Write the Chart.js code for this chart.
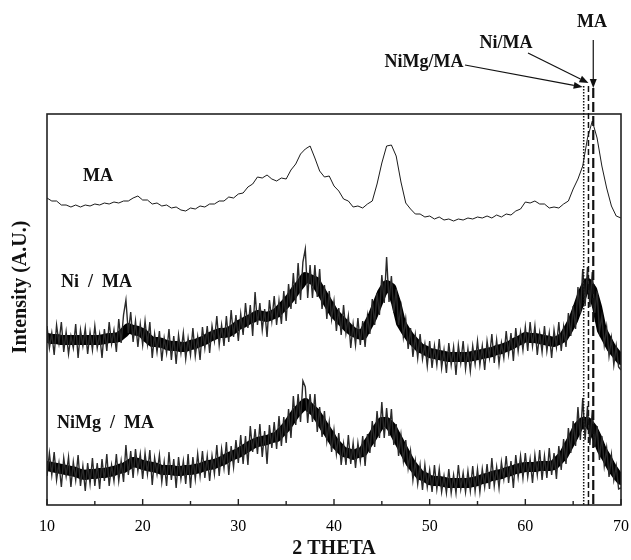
<!doctype html>
<html lang="en">
<head>
<meta charset="utf-8">
<title>XRD patterns MA, Ni/MA, NiMg/MA</title>
<style>
  * { margin: 0; padding: 0; }
  body { background: #fff; }
</style>
</head>
<body>
<canvas id="myChart" width="631" height="560"></canvas>
<script src="https://cdn.jsdelivr.net/npm/chart.js"></script>
<script>
const serif = "'Liberation Serif', 'Times New Roman', serif";

// scan grids (2 theta start / step)
const coarseStart = 10, coarseStep = 0.5;
const fineStart = 10, fineStep = 0.25;

// MA, 0.5 deg steps (arbitrary intensity units)
const maValues = [
  307,304,304,300,300,298,300,298,300,299,301,300,302,301,303,302,304,304,307,309,
  305,305,301,302,299,300,297,298,295,294,297,296,299,298,301,301,304,304,308,307,
  311,312,318,321,328,327,330,326,324,327,326,335,341,351,356,359,347,334,328,329,
  319,314,306,304,298,299,297,301,304,321,342,359,360,349,323,302,296,291,291,288,
  289,286,288,285,286,284,286,285,287,286,288,287,289,287,290,288,291,290,294,296,
  303,302,304,301,301,297,298,297,301,304,316,326,339,367,384,367,339,317,299,289,
  287
];

// Ni / MA raw counts, 0.25 deg steps
const niMaValues = [
  179,157,172,150,180,162,183,153,173,151,169,157,181,147,175,159,177,151,173,155,
  179,157,171,147,176,154,183,161,175,153,186,162,190,205,172,193,163,184,158,181,
  160,184,161,183,147,171,153,174,144,167,152,176,145,169,141,170,152,172,146,167,
  150,177,149,168,145,178,157,179,152,179,164,189,160,180,159,189,163,195,168,190,
  164,191,170,202,177,200,169,213,180,202,175,196,168,205,184,209,180,204,181,214,
  184,221,196,232,201,242,205,243,256,207,240,207,240,208,236,196,220,186,214,186,
  204,174,197,170,200,172,189,157,181,160,187,160,184,158,189,171,206,180,212,190,
  230,202,248,203,229,192,216,180,198,168,186,156,177,148,170,147,171,146,161,139,
  164,137,159,140,166,137,155,132,162,140,158,130,160,142,164,136,156,134,159,141,
  164,140,159,135,164,147,171,142,165,141,162,147,174,151,172,144,177,154,173,155,
  178,154,183,159,179,150,172,153,179,154,172,147,175,158,183,154,178,158,192,169,
  199,176,218,191,236,199,238,198,233,192,214,174,189,160,178,149,167,140,159,138,
  135
];

// Ni / MA band centre, 0.5 deg steps
const niMaCentre = [
  167,166,166,165,165,165,165,165,165,165,165,165,166,167,167,168,172,177,175,174,
  172,167,163,163,162,160,159,159,158,158,160,161,163,165,168,170,172,172,173,176,
  180,182,185,187,190,189,188,190,192,197,202,208,215,221,228,226,224,216,208,200,
  192,187,182,177,173,171,170,179,188,200,212,220,217,202,182,174,167,162,157,155,
  152,151,150,149,148,148,148,148,148,149,150,151,152,153,155,156,158,160,163,165,
  168,167,167,166,165,164,163,165,168,176,185,198,212,222,215,198,175,166,157,151,
  145
];

// NiMg / MA raw counts, 0.25 deg steps
const niMgMaValues = [
  29,52,30,53,25,42,18,47,29,48,18,43,25,50,19,39,14,42,21,47,
  19,42,16,46,24,51,19,40,24,51,24,44,23,60,30,54,27,56,34,51,
  26,52,31,55,20,47,31,50,23,43,19,53,25,46,17,48,26,44,21,51,
  17,48,26,51,29,54,27,49,24,49,31,60,29,56,37,63,30,59,38,65,
  42,70,41,69,40,79,53,76,51,81,48,74,41,80,57,83,56,89,59,88,
  62,96,67,109,80,111,83,124,118,82,111,83,111,73,98,68,94,64,83,53,
  75,51,72,40,61,40,70,41,62,37,62,44,69,39,71,52,84,58,94,67,
  103,67,97,69,96,60,81,49,70,44,65,37,54,25,44,21,40,15,40,18,
  35,13,40,16,36,13,29,12,36,12,30,12,40,16,32,13,34,14,39,14,
  36,13,36,18,41,16,47,19,38,17,43,26,49,22,44,17,50,28,49,27,
  52,28,46,22,50,30,55,25,49,27,57,30,52,26,59,35,66,41,77,52,
  84,59,98,65,107,65,99,60,95,58,79,45,69,39,57,28,50,25,39,16,
  17
];

// NiMg / MA band centre, 0.5 deg steps
const niMgMaCentre = [
  39,38,37,36,35,34,33,31,30,31,31,32,32,33,34,36,37,40,43,42,
  40,39,38,37,35,35,35,34,34,35,35,36,37,39,40,41,43,45,48,50,
  52,55,58,61,63,64,65,67,68,73,78,85,92,97,102,97,93,86,78,71,
  63,58,53,52,50,52,53,61,68,76,83,83,78,69,60,51,42,36,30,28,
  25,24,24,23,22,22,22,22,22,23,24,26,27,29,30,31,33,34,36,37,
  38,38,38,39,39,39,40,45,50,59,68,78,83,83,77,67,55,47,38,31,
  25
];

const seriesNames = ['MA', 'Ni  /  MA', 'NiMg  /  MA'];
const peakMarks = [66.1, 66.6, 67.1];          // NiMg/MA, Ni/MA, MA
const peakNames = ['NiMg/MA', 'Ni/MA', 'MA'];
const xTicks = [10, 20, 30, 40, 50, 60, 70];
const xMinorTicks = [15, 25, 35, 45, 55, 65];

const toPoints = (vals, start, step) => vals.map((v, i) => ({ x: start + i * step, y: v }));

function arrow(ctx, x1, y1, x2, y2) {
  const a = Math.atan2(y2 - y1, x2 - x1);
  const len = 9, half = 3.5;
  ctx.beginPath();
  ctx.moveTo(x1, y1);
  ctx.lineTo(x2 - Math.cos(a) * len, y2 - Math.sin(a) * len);
  ctx.stroke();
  ctx.beginPath();
  ctx.moveTo(x2, y2);
  ctx.lineTo(x2 - Math.cos(a) * len - Math.sin(a) * half, y2 - Math.sin(a) * len + Math.cos(a) * half);
  ctx.lineTo(x2 - Math.cos(a) * len + Math.sin(a) * half, y2 - Math.sin(a) * len - Math.cos(a) * half);
  ctx.closePath();
  ctx.fill();
}

// frame, ticks, labels and peak markers
const decorations = {
  id: 'decorations',
  afterDatasetsDraw(chart) {
    const { ctx, chartArea: { top, bottom, left, right }, scales: { x } } = chart;
    ctx.save();

    // frame
    ctx.strokeStyle = '#222';
    ctx.lineWidth = 1.6;
    ctx.strokeRect(left, top, right - left, bottom - top);

    // inward ticks
    ctx.lineWidth = 1.4;
    ctx.beginPath();
    xTicks.forEach(v => { const px = x.getPixelForValue(v); ctx.moveTo(px, bottom); ctx.lineTo(px, bottom - 6); });
    xMinorTicks.forEach(v => { const px = x.getPixelForValue(v); ctx.moveTo(px, bottom); ctx.lineTo(px, bottom - 4); });
    ctx.stroke();

    // series labels
    ctx.fillStyle = '#111';
    ctx.font = 'bold 18px ' + serif;
    ctx.textBaseline = 'middle';
    ctx.textAlign = 'left';
    ctx.fillText(seriesNames[0], 83, 176);
    ctx.fillText(seriesNames[1], 61, 282);
    ctx.fillText(seriesNames[2], 57, 423);

    // peak marker lines
    const px = peakMarks.map(v => x.getPixelForValue(v));
    ctx.strokeStyle = '#111';
    ctx.lineWidth = 1.5;
    ctx.setLineDash([1.5, 1.5]);
    ctx.beginPath(); ctx.moveTo(px[0], 86); ctx.lineTo(px[0], bottom); ctx.stroke();
    ctx.setLineDash([6, 3]);
    ctx.beginPath(); ctx.moveTo(px[1], 86); ctx.lineTo(px[1], bottom); ctx.stroke();
    ctx.lineWidth = 2.2;
    ctx.setLineDash([10, 4]);
    ctx.beginPath(); ctx.moveTo(px[2], 88); ctx.lineTo(px[2], bottom); ctx.stroke();
    ctx.setLineDash([]);

    // arrows and peak names
    ctx.lineWidth = 1.2;
    ctx.fillStyle = '#111';
    arrow(ctx, 465, 65, px[0] - 1, 87);
    arrow(ctx, 528, 53, px[1], 83);
    arrow(ctx, px[2], 40, px[2], 88);
    ctx.textAlign = 'center';
    ctx.fillText(peakNames[0], 424, 62);
    ctx.fillText(peakNames[1], 506, 43);
    ctx.fillText(peakNames[2], 592, 22);

    // axis titles
    ctx.font = 'bold 20px ' + serif;
    ctx.fillText('2 THETA', (left + right) / 2, 549);
    ctx.translate(21, 287);
    ctx.rotate(-Math.PI / 2);
    ctx.fillText('Intensity (A.U.)', 0, 0);
    ctx.restore();
  }
};

const lineStyle = { borderColor: '#000', pointRadius: 0, tension: 0, fill: false };
const coreStyle = { ...lineStyle, borderWidth: 10, borderJoinStyle: 'round', borderCapStyle: 'round' };

const config = {
  type: 'line',
  data: {
    datasets: [
      { label: seriesNames[0], data: toPoints(maValues, coarseStart, coarseStep), borderWidth: 0.9, ...lineStyle },
      { label: seriesNames[1], data: toPoints(niMaValues, fineStart, fineStep), borderWidth: 1.4, ...lineStyle, borderColor: '#2a2a2a' },
      { label: seriesNames[1] + ' core', data: toPoints(niMaCentre, coarseStart, coarseStep), ...coreStyle },
      { label: seriesNames[2], data: toPoints(niMgMaValues, fineStart, fineStep), borderWidth: 1.4, ...lineStyle, borderColor: '#2a2a2a' },
      { label: seriesNames[2] + ' core', data: toPoints(niMgMaCentre, coarseStart, coarseStep), ...coreStyle }
    ]
  },
  options: {
    responsive: false,
    animation: false,
    layout: { padding: { left: 47, right: 10, top: 114, bottom: 0 } },
    scales: {
      x: {
        type: 'linear',
        min: 10,
        max: 70,
        afterBuildTicks: s => { s.ticks = xTicks.map(v => ({ value: v })); },
        afterFit: s => { s.height = 55; s.paddingLeft = 0; s.paddingRight = 0; },
        grid: { display: false, drawTicks: false },
        border: { display: false },
        ticks: { font: { family: serif, size: 16 }, color: '#000', padding: 12, maxRotation: 0 }
      },
      y: { display: false, min: 0, max: 391 }
    },
    plugins: {
      legend: { display: false },
      tooltip: { enabled: false }
    }
  },
  plugins: [decorations]
};

const myChart = new Chart(document.getElementById('myChart'), config);
</script>
</body>
</html>
